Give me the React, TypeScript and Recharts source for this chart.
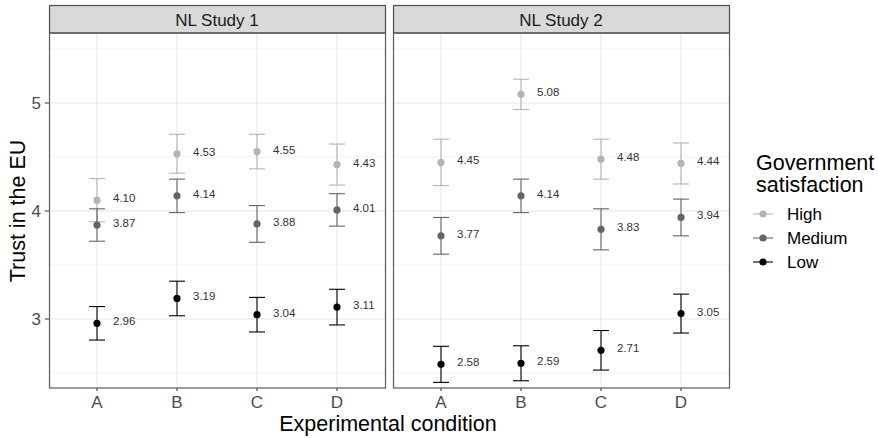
import { ScatterChart, Scatter, XAxis, YAxis, ErrorBar, ReferenceLine } from 'recharts';

const categories = ['A', 'B', 'C', 'D'];
const panelTitles = ['NL Study 1', 'NL Study 2'];
const groups = ['High', 'Medium', 'Low'];

// point estimates and half-width of the intervals
const study1High = [4.1, 4.53, 4.55, 4.43];
const study1HighCI = [0.2, 0.18, 0.16, 0.19];
const study1Medium = [3.87, 4.14, 3.88, 4.01];
const study1MediumCI = [0.15, 0.155, 0.17, 0.15];
const study1Low = [2.96, 3.19, 3.04, 3.11];
const study1LowCI = [0.155, 0.16, 0.16, 0.165];

const study2High = [4.45, 5.08, 4.48, 4.44];
const study2HighCI = [0.215, 0.14, 0.185, 0.19];
const study2Medium = [3.77, 4.14, 3.83, 3.94];
const study2MediumCI = [0.17, 0.155, 0.19, 0.17];
const study2Low = [2.58, 2.59, 2.71, 3.05];
const study2LowCI = [0.167, 0.162, 0.183, 0.18];

const yTicks = [3, 4, 5];
const yMinor = [2.5, 3.5, 4.5, 5.5];

const colors: Record<string, string> = { High: '#b3b3b3', Medium: '#646464', Low: '#000000' };
const FONT = '"Liberation Sans", Arial, sans-serif';

const toRows = (vals: number[], ci: number[]) =>
  categories.map((c, i) => ({ x: i + 1, y: vals[i], err: ci[i], cat: c }));

const panelData = [
  {
    High: toRows(study1High, study1HighCI),
    Medium: toRows(study1Medium, study1MediumCI),
    Low: toRows(study1Low, study1LowCI),
  },
  {
    High: toRows(study2High, study2HighCI),
    Medium: toRows(study2Medium, study2MediumCI),
    Low: toRows(study2Low, study2LowCI),
  },
];

const makeShape = (color: string) => (props: any) => {
  const { cx, cy, payload } = props;
  return (
    <g>
      <circle cx={cx} cy={cy} r={3.6} fill={color} />
      <text x={cx + 16} y={cy + 2} fontSize={11.5} fill="#333" fontFamily={FONT}>
        {payload.y.toFixed(2)}
      </text>
    </g>
  );
};

function Panel({ idx }: { idx: number }) {
  const data = panelData[idx] as any;
  const first = idx === 0;
  return (
    <ScatterChart
      width={first ? 385 : 336}
      height={438}
      margin={{ top: 33, right: 0, bottom: 0, left: 0 }}
    >
      <XAxis
        type="number"
        dataKey="x"
        domain={[0.4, 4.6]}
        allowDataOverflow
        ticks={[1, 2, 3, 4]}
        tickFormatter={(v: number) => categories[v - 1]}
        axisLine={false}
        tickSize={3}
        tickMargin={5}
        tickLine={{ stroke: '#333' }}
        tick={{ fontSize: 17, fill: '#4d4d4d', fontFamily: FONT }}
        height={50}
      />
      <YAxis
        type="number"
        dataKey="y"
        domain={[2.361, 5.648]}
        allowDataOverflow
        ticks={yTicks}
        hide={!first}
        width={first ? 49 : 0}
        axisLine={false}
        tickSize={4}
        tickMargin={4}
        tickLine={{ stroke: '#333' }}
        tick={{ fontSize: 17, fill: '#4d4d4d', fontFamily: FONT }}
      />
      {yMinor.map((v) => (
        <ReferenceLine key={'m' + v} y={v} stroke="#f2f2f2" strokeWidth={1} />
      ))}
      {yTicks.map((v) => (
        <ReferenceLine key={'y' + v} y={v} stroke="#e6e6e6" strokeWidth={1} />
      ))}
      {categories.map((c, i) => (
        <ReferenceLine key={'x' + c} x={i + 1} stroke="#e6e6e6" strokeWidth={1} />
      ))}
      {groups.map((g) => (
        <Scatter
          key={g}
          name={g}
          data={data[g]}
          fill={colors[g]}
          shape={makeShape(colors[g])}
          isAnimationActive={false}
        >
          <ErrorBar
            dataKey="err"
            direction="y"
            width={8}
            stroke={colors[g]}
            strokeWidth={1.1}
            isAnimationActive={false}
          />
        </Scatter>
      ))}
    </ScatterChart>
  );
}

export default function App() {
  const panelsX = [49, 393];
  const legendY = [214, 238, 262];
  return (
    <div style={{ position: 'absolute', left: 0, top: 0, width: 878, height: 438, background: '#fff' }}>
      <div style={{ position: 'absolute', left: 0, top: 0 }}>
        <Panel idx={0} />
      </div>
      <div style={{ position: 'absolute', left: 393, top: 0 }}>
        <Panel idx={1} />
      </div>
      <svg
        width={878}
        height={438}
        style={{ position: 'absolute', left: 0, top: 0, pointerEvents: 'none' }}
        fontFamily={FONT}
      >
        {panelsX.map((x, i) => (
          <g key={i}>
            <rect x={x + 0.5} y={5.5} width={336} height={27.5} fill="#d9d9d9" stroke="#4d4d4d" strokeWidth={1.2} />
            <rect x={x + 0.5} y={33} width={336} height={355} fill="none" stroke="#5a5a5a" strokeWidth={1.2} />
            <text x={x + 168} y={26} textAnchor="middle" fontSize={17} fill="#1a1a1a">
              {panelTitles[i]}
            </text>
          </g>
        ))}
        <text x={388} y={431} textAnchor="middle" fontSize={21.5} fill="#000">
          Experimental condition
        </text>
        <text
          x={0}
          y={0}
          transform="translate(25,211) rotate(-90)"
          textAnchor="middle"
          fontSize={21.5}
          fill="#000"
        >
          Trust in the EU
        </text>
        <text x={756} y={170} fontSize={21.5} fill="#000">Government</text>
        <text x={756} y={192} fontSize={21.5} fill="#000">satisfaction</text>
        {groups.map((g, i) => (
          <g key={g}>
            <line x1={753} x2={773} y1={legendY[i]} y2={legendY[i]} stroke={colors[g]} strokeWidth={1.1} />
            <circle cx={763} cy={legendY[i]} r={3.6} fill={colors[g]} />
            <text x={787} y={legendY[i] + 6} fontSize={17} fill="#000">{g}</text>
          </g>
        ))}
      </svg>
    </div>
  );
}
